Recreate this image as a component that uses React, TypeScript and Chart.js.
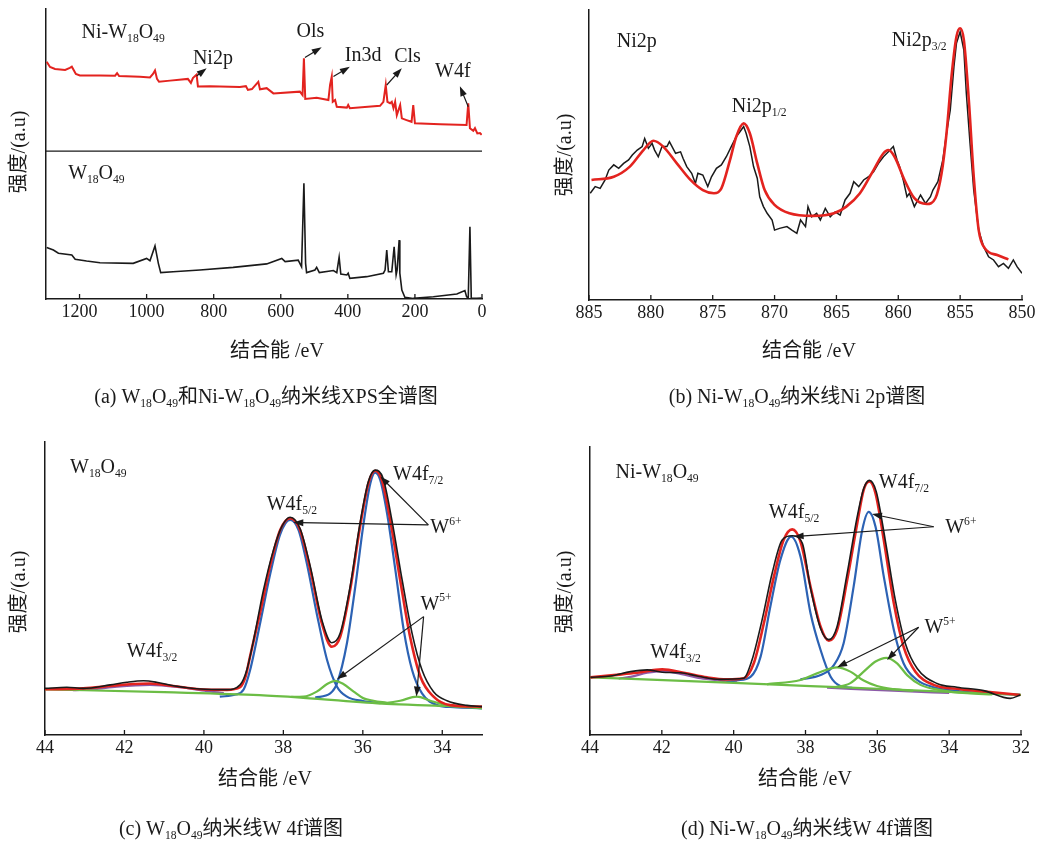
import React, { useEffect, useRef } from 'react';
import { Chart, registerables } from 'chart.js';

Chart.register(...registerables);

type Pt = [number, number];

const SERIF = '"Liberation Serif", "Noto Sans CJK SC", serif';
const INK = '#1a1a1a';
const RED = '#e3231f';
const BLUE = '#2c62b4';
const GREEN = '#6cbd45';
const PURPLE = '#8c5aa8';

const X_TITLE = '结合能 /eV';
const Y_TITLE = '强度/(a.u)';

// ---------- (a) survey spectra ----------
const surveyTicks = [1200, 1000, 800, 600, 400, 200, 0];
const niW18O49Survey: Pt[] = [
  [1298, 81.8], [1288, 80], [1273, 79.3], [1243, 79], [1229, 79.7], [1223, 80.1], [1211, 77.6], [1199, 77.1],
  [1139, 77.1], [1094, 77], [1088, 77.9], [1082, 76.9], [1020, 76.6], [990, 76.4], [981, 77.6], [975, 78.8],
  [969, 75.9], [963, 74.9], [930, 75.3], [877, 75.9], [868, 74.5], [862, 76.2], [851, 77.4], [847, 73.3],
  [811, 73.4], [722, 73.1], [704, 73.4], [698, 72.1], [686, 72.4], [667, 74.9], [662, 72.3], [642, 72.7],
  [622, 70.9], [543, 71.5], [535, 70.3], [531, 83], [527, 69], [493, 69.4], [458, 68.6], [453, 73.8],
  [448, 76.7], [445, 68], [438, 68.6], [433, 66.3], [403, 66], [399, 66.9], [394, 65.8], [304, 66.6],
  [294, 68], [287, 73.8], [282, 68], [274, 67.5], [269, 68], [264, 65.8], [259, 68], [254, 63.4],
  [244, 66.9], [239, 62.3], [225, 61.7], [210, 61.1], [205, 66.9], [200, 60.6], [125, 60.3], [46, 60],
  [41, 67.5], [36, 58.9], [26, 58], [21, 58.9], [14, 57.1], [6, 57.2], [1, 56.6],
];
const w18O49Survey: Pt[] = [
  [1298, 17.8], [1278, 16.9], [1263, 15.8], [1223, 15.2], [1213, 13.7], [1179, 13.1], [1139, 12.5], [1040, 12.3],
  [1000, 14.0], [990, 13.2], [975, 18.3], [965, 12.3], [958, 9.1], [921, 9.4], [841, 10], [742, 10.9],
  [642, 12.1], [597, 14], [587, 12.9], [548, 13.4], [538, 11.1], [531, 39.9], [526, 12.3], [523, 9.1],
  [498, 10], [493, 10.9], [485, 9.1], [443, 9.8], [433, 9.1], [426, 14.4], [421, 8.6], [403, 8.3],
  [399, 8.9], [394, 7.1], [344, 7.7], [294, 8.9], [289, 10], [284, 16.9], [279, 9.4], [269, 9.4],
  [262, 18], [256, 8.3], [253, 10], [247, 20.3], [245, 8.9], [239, 3.1], [230, 0.6], [205, 0.2],
  [145, 0.8], [75, 1.7], [51, 2.9], [46, 0.8], [41, 0.2], [36, 24.9], [32, 0.3], [16, 0.2], [1, 0.3],
];
const surveyDivider: Pt[] = [[1300, 51], [0, 51]];

// ---------- (b) Ni 2p ----------
const ni2pTicks = [885, 880, 875, 870, 865, 860, 855, 850];
const ni2pData: Pt[] = [
  [884.9, 36.8], [884.5, 39.1], [884.1, 38.5], [883.7, 41.4], [883.4, 44.8], [883.0, 46.6], [882.6, 45.4],
  [882.2, 47.1], [881.8, 48.3], [881.5, 50], [881.1, 51.7], [880.7, 52.9], [880.5, 55.7], [880.2, 52.3],
  [879.9, 54], [879.7, 51.7], [879.4, 49.4], [879.1, 52.9], [878.7, 52.9], [878.5, 54.6], [878.0, 50.6],
  [877.6, 51.1], [877.4, 48.9], [877.1, 46], [876.7, 43.7], [876.4, 40.2], [876.2, 43.7], [875.8, 43.1],
  [875.4, 39.1], [875.1, 42.5], [874.7, 45.4], [874.3, 46.6], [873.9, 49.4], [873.5, 52.9], [873.1, 56.3],
  [872.8, 58], [872.5, 59.8], [872.3, 57.5], [872.0, 52.9], [871.7, 46], [871.4, 42], [871.2, 35.6],
  [870.9, 32.2], [870.6, 29.9], [870.2, 27.6], [870.0, 24.1], [869.6, 24.7], [869.0, 25.3], [868.6, 24.1],
  [868.2, 23], [867.9, 27.6], [867.5, 25.3], [867.3, 32.2], [867.0, 28.7], [866.6, 29.9], [866.3, 27.6],
  [865.9, 31.6], [865.5, 28.7], [865.1, 30.4], [864.7, 29.3], [864.3, 34.5], [863.9, 36.8], [863.6, 40.8],
  [863.2, 39.1], [862.8, 41.4], [862.4, 42.5], [862.0, 44.2], [861.6, 47.1], [861.2, 49.4], [860.8, 51.1],
  [860.4, 52.9], [860.1, 48.3], [859.9, 46], [859.6, 41.4], [859.3, 35.6], [859.1, 36.8], [858.7, 32.2],
  [858.2, 36.2], [857.8, 33.3], [857.4, 35.6], [857.2, 37.9], [856.8, 40.8], [856.4, 48.3], [856.1, 57.5],
  [855.8, 65.5], [855.5, 80.5], [855.3, 88.5], [855.0, 92.5], [854.7, 86.2], [854.5, 71.3], [854.2, 54],
  [853.9, 37.9], [853.5, 24.1], [853.1, 18.4], [852.7, 14.9], [852.3, 13.8], [851.9, 11.5], [851.5, 12.6],
  [851.1, 10.9], [850.7, 13.8], [850.4, 11.5], [850.0, 9.2],
];
const ni2pFit: Pt[] = [
  [884.8, 41.4], [883.0, 42.5], [881.7, 46], [880.6, 51.7], [879.8, 54.9], [879.0, 52.9], [877.9, 47.1],
  [876.8, 41.4], [875.8, 37.9], [874.9, 36.8], [874.3, 38.5], [873.6, 48.3], [873.1, 56.3], [872.5, 60.9],
  [872.0, 57.5], [871.4, 47.1], [870.8, 37.9], [870.0, 32.8], [868.8, 29.9], [866.9, 29], [865.2, 29.9],
  [864.2, 32.2], [863.1, 36.8], [862.0, 44.8], [861.2, 50.6], [860.8, 51.7], [860.3, 49.4], [859.5, 41.4],
  [858.7, 35.1], [857.7, 33.1], [857.0, 35.1], [856.5, 43.7], [856.1, 57.5], [855.7, 77], [855.3, 90.8],
  [855.0, 93.7], [854.7, 89.7], [854.3, 69], [853.9, 42.5], [853.5, 24.1], [853.0, 17.8], [852.0, 15.5],
  [851.1, 14],
];

// ---------- (c) W18O49 W 4f ----------
const w4fTicksC = [44, 42, 40, 38, 36, 34];
const w4fDataC: Pt[] = [
  [44.0, 15.9], [43.45, 16.3], [43.04, 15.9], [42.36, 17.1], [41.94, 18], [41.52, 18.5], [41.19, 18],
  [40.77, 16.8], [40.10, 15.7], [39.42, 15.5], [39.09, 17.1], [38.92, 22.2], [38.75, 32.4], [38.50, 49.5],
  [38.25, 63.1], [38.04, 71.1], [37.83, 74.3], [37.58, 70.5], [37.32, 57.4], [37.03, 39.2], [36.78, 31.5],
  [36.57, 34.7], [36.32, 50.6], [36.07, 72.3], [35.86, 86.5], [35.69, 90.4], [35.49, 87.6], [35.27, 73.4],
  [35.01, 52.9], [34.76, 34.7], [34.51, 22.2], [34.22, 14.8], [33.88, 11.7], [33.38, 10.1], [33.0, 9.7],
];
const w4fEnvelopeC: Pt[] = [
  [44, 15.6], [43.04, 15.9], [42.36, 16.7], [41.78, 17.4], [41.36, 17.6], [40.77, 16.7], [40.10, 15.6],
  [39.42, 15.4], [39.09, 16.3], [38.95, 20], [38.84, 26.7], [38.58, 42.1], [38.33, 58], [38.08, 70],
  [37.83, 74], [37.58, 70], [37.32, 56.3], [37.03, 38.1], [36.78, 30.1], [36.57, 33.5], [36.32, 49.5],
  [36.07, 71.1], [35.86, 85.9], [35.69, 90.2], [35.52, 87], [35.31, 73.4], [35.06, 52.9], [34.81, 33.5],
  [34.55, 19.9], [34.22, 13.1], [33.80, 10.2], [33.0, 9.7],
];
const w6Peak1C: Pt[] = [
  [39.6, 13.1], [39.2, 13.8], [39.0, 15.5], [38.84, 22], [38.58, 38.5], [38.33, 55], [38.08, 68.5],
  [37.83, 73.4], [37.62, 70], [37.41, 58.6], [37.16, 41.5], [36.9, 25.6], [36.65, 16.5], [36.4, 13.1],
  [36.0, 11.6], [35.6, 11.0],
];
const w6Peak2C: Pt[] = [
  [37.2, 12.8], [36.82, 14.2], [36.65, 17.6], [36.4, 31.3], [36.19, 50.6], [35.98, 72.3], [35.81, 85.9],
  [35.69, 89.5], [35.56, 87], [35.39, 75.7], [35.18, 56.3], [34.97, 35.8], [34.76, 22.2], [34.51, 14.2],
  [34.13, 10.2], [33.71, 9.5], [33.0, 9.1],
];
const w5Peak1C: Pt[] = [
  [37.8, 13.0], [37.49, 13.1], [37.16, 14.8], [36.9, 17.4], [36.69, 18.5], [36.49, 17.4], [36.23, 14.8],
  [35.98, 12.5], [35.73, 11.7], [35.4, 11.0],
];
const w5Peak2C: Pt[] = [
  [35.6, 10.9], [35.39, 11.0], [35.06, 11.7], [34.64, 13.1], [34.30, 11.7], [33.88, 10.2], [33.5, 9.6],
];
const backgroundC: Pt[] = [
  [44, 15.6], [41, 14.6], [38.6, 13.6], [37.5, 12.7], [35.4, 10.6], [33.9, 9.9], [33, 9.1],
];
const w4f32C: Pt[] = [
  [43.3, 15.3], [42.78, 15.6], [42.19, 16.5], [41.36, 17.1], [40.60, 16.3], [39.93, 15.0], [39.5, 14.3],
];

// ---------- (d) Ni-W18O49 W 4f ----------
const w4fTicksD = [44, 42, 40, 38, 36, 34, 32];
const w4fDataD: Pt[] = [
  [43.99, 20], [43.43, 20.5], [42.87, 22], [42.41, 22.6], [41.99, 21.8], [41.48, 21.6], [41.02, 20.5],
  [40.37, 19.3], [39.72, 19.7], [39.49, 26], [39.21, 39.9], [38.93, 56.1], [38.65, 67.7], [38.37, 69.2],
  [38.09, 66.6], [37.86, 50.9], [37.58, 37], [37.35, 33.1], [37.12, 37.7], [36.84, 56.1], [36.56, 75.8],
  [36.38, 85.6], [36.22, 88.4], [36.03, 84.5], [35.78, 67.7], [35.50, 46.9], [35.22, 31.8], [34.89, 23.1],
  [34.34, 17.9], [33.78, 16.6], [33.04, 15.4], [32.30, 12.7], [32.02, 13.9],
];
const w4fEnvelopeD: Pt[] = [
  [43.99, 20], [43.34, 20.8], [42.69, 21.6], [41.99, 22.8], [41.39, 21.6], [40.74, 20], [40.18, 19.3],
  [39.72, 19.7], [39.44, 24.9], [39.16, 38.8], [38.88, 55], [38.61, 67.7], [38.37, 71.4], [38.14, 67.2],
  [37.86, 51.5], [37.58, 37.6], [37.35, 32.7], [37.12, 36.5], [36.84, 53.8], [36.56, 73.5], [36.38, 85.1],
  [36.22, 88], [36.05, 83.9], [35.82, 67.7], [35.54, 45.7], [35.27, 30.7], [34.94, 22], [34.43, 17.4],
  [33.69, 15.9], [32.94, 15], [32.02, 13.9],
];
const w6Peak1D: Pt[] = [
  [40.2, 18.4], [39.90, 19.0], [39.53, 20.2], [39.25, 27.2], [38.98, 44.5], [38.70, 60.8], [38.40, 68.9],
  [38.14, 62], [37.86, 42.3], [37.58, 29.5], [37.30, 20.2], [37.03, 17], [36.7, 16.4],
];
const w6Peak2D: Pt[] = [
  [38.14, 19.3], [37.58, 20.8], [37.21, 24.3], [36.94, 31.8], [36.66, 51.5], [36.42, 71.2], [36.24, 77.5],
  [36.05, 72.3], [35.82, 55], [35.54, 36.5], [35.27, 24.9], [34.89, 19.1], [34.43, 16.6], [33.69, 15.2],
  [32.02, 13.9],
];
const w5Peak1D: Pt[] = [
  [39.07, 17.6], [38.14, 19.1], [37.68, 21.4], [37.12, 23.5], [36.75, 22], [36.38, 18.9], [36.01, 17],
  [35.54, 15.9], [35.0, 15.3],
];
const w5Peak2D: Pt[] = [
  [37.2, 16.5], [36.75, 18], [36.38, 22], [36.05, 25.5], [35.75, 26.8], [35.45, 24.9], [35.17, 20.8],
  [34.80, 17.4], [34.25, 15.6], [33.50, 14.5], [32.8, 14.1],
];
const backgroundD: Pt[] = [
  [44, 20], [40, 18.1], [37.86, 17], [35.5, 15.8], [34, 15], [32, 13.9],
];
const w4f32D: Pt[] = [
  [43.2, 19.6], [42.87, 20.2], [42.41, 21.6], [41.99, 22.2], [41.48, 21.2], [40.92, 19.7], [40.37, 18.9],
  [39.9, 18.3],
];
const backgroundD2: Pt[] = [[37.4, 16.4], [35.4, 15.3], [34.0, 14.6]];

// ---------- panel definitions ----------
type Series = { data: Pt[]; color: string; width: number; smooth: boolean };
type Label = { text: string; at: Pt };
type Arrow = { from: Pt; to: Pt };
type PanelSpec = {
  box: { left: number; top: number; width: number; height: number };
  pad: { left: number; top: number; right: number; bottom: number };
  xMin: number;
  xMax: number;
  ticks: number[];
  series: Series[];
  labels: Label[];
  arrows: Arrow[];
  xTitle: Pt;
  yTitle: Pt;
  caption: string;
  captionAt: Pt;
};

const panels: PanelSpec[] = [
  {
    box: { left: 0, top: 0, width: 520, height: 420 },
    pad: { left: 46, top: 9, right: 38, bottom: 121 },
    xMin: 0, xMax: 1300, ticks: surveyTicks,
    series: [
      { data: surveyDivider, color: INK, width: 1.2, smooth: false },
      { data: niW18O49Survey, color: RED, width: 2, smooth: false },
      { data: w18O49Survey, color: INK, width: 1.6, smooth: false },
    ],
    labels: [
      { text: 'Ni-W_{18}O_{49}', at: [1194, 90] },
      { text: 'Ni2p', at: [862, 81] },
      { text: 'Ols', at: [553, 90.2] },
      { text: 'In3d', at: [409, 82.2] },
      { text: 'Cls', at: [262, 81.6] },
      { text: 'W4f', at: [140, 76.7] },
      { text: 'W_{18}O_{49}', at: [1234, 41.3] },
    ],
    arrows: [
      { from: [851, 76.9], to: [821, 79.6] },
      { from: [528, 83.3], to: [478, 86.8] },
      { from: [443, 76.7], to: [394, 80.1] },
      { from: [284, 73.8], to: [239, 79.6] },
      { from: [41, 66.3], to: [66, 73.4] },
    ],
    xTitle: [277, 352], yTitle: [20, 152],
    caption: '(a) W_{18}O_{49}和Ni-W_{18}O_{49}纳米线XPS全谱图', captionAt: [266, 403],
  },
  {
    box: { left: 520, top: 0, width: 521, height: 420 },
    pad: { left: 69, top: 10, right: 19, bottom: 120 },
    xMin: 850, xMax: 885, ticks: ni2pTicks,
    series: [
      { data: ni2pFit, color: RED, width: 2.6, smooth: true },
      { data: ni2pData, color: INK, width: 1.5, smooth: false },
    ],
    labels: [
      { text: 'Ni2p', at: [882.76, 87.3] },
      { text: 'Ni2p_{1/2}', at: [873.46, 64.9] },
      { text: 'Ni2p_{3/2}', at: [860.53, 87.6] },
    ],
    arrows: [],
    xTitle: [289, 352], yTitle: [46, 155],
    caption: '(b) Ni-W_{18}O_{49}纳米线Ni 2p谱图', captionAt: [277, 403],
  },
  {
    box: { left: 0, top: 420, width: 520, height: 426 },
    pad: { left: 45, top: 22, right: 38, bottom: 111 },
    xMin: 33, xMax: 44, ticks: w4fTicksC,
    series: [
      { data: w4fDataC, color: INK, width: 1.6, smooth: true },
      { data: w4fEnvelopeC, color: RED, width: 2.6, smooth: true },
      { data: w5Peak1C, color: GREEN, width: 2.2, smooth: true },
      { data: w5Peak2C, color: GREEN, width: 2.2, smooth: true },
      { data: backgroundC, color: GREEN, width: 2.2, smooth: true },
      { data: w6Peak1C, color: BLUE, width: 2.2, smooth: true },
      { data: w6Peak2C, color: BLUE, width: 2.2, smooth: true },
      { data: w4f32C, color: PURPLE, width: 2.2, smooth: true },
    ],
    labels: [
      { text: 'W_{18}O_{49}', at: [43.37, 89.5] },
      { text: 'W4f_{3/2}', at: [41.94, 26.7] },
      { text: 'W4f_{5/2}', at: [38.42, 76.8] },
      { text: 'W4f_{7/2}', at: [35.24, 87] },
      { text: 'W^{6+}', at: [34.3, 68.8] },
      { text: 'W^{5+}', at: [34.55, 42.7] },
    ],
    arrows: [
      { from: [34.35, 71.7], to: [37.75, 72.5] },
      { from: [34.35, 71.7], to: [35.56, 88.2] },
      { from: [34.47, 40.4], to: [36.65, 19] },
      { from: [34.47, 40.4], to: [34.65, 13.1] },
    ],
    xTitle: [265, 360], yTitle: [20, 172],
    caption: '(c) W_{18}O_{49}纳米线W 4f谱图', captionAt: [231, 415],
  },
  {
    box: { left: 520, top: 420, width: 521, height: 426 },
    pad: { left: 70, top: 27, right: 20, bottom: 111 },
    xMin: 32, xMax: 44, ticks: w4fTicksD,
    series: [
      { data: w4fDataD, color: INK, width: 1.6, smooth: true },
      { data: w4fEnvelopeD, color: RED, width: 2.6, smooth: true },
      { data: w5Peak1D, color: GREEN, width: 2.2, smooth: true },
      { data: w5Peak2D, color: GREEN, width: 2.2, smooth: true },
      { data: backgroundD, color: GREEN, width: 2.2, smooth: true },
      { data: w6Peak1D, color: BLUE, width: 2.2, smooth: true },
      { data: w6Peak2D, color: BLUE, width: 2.2, smooth: true },
      { data: w4f32D, color: PURPLE, width: 2.2, smooth: true },
      { data: backgroundD2, color: PURPLE, width: 2.2, smooth: true },
    ],
    labels: [
      { text: 'Ni-W_{18}O_{49}', at: [43.29, 89.1] },
      { text: 'W4f_{3/2}', at: [42.32, 26.6] },
      { text: 'W4f_{5/2}', at: [39.02, 75.2] },
      { text: 'W4f_{7/2}', at: [35.96, 85.7] },
      { text: 'W^{6+}', at: [34.11, 70] },
      { text: 'W^{5+}', at: [34.69, 35.3] },
    ],
    arrows: [
      { from: [34.43, 72.3], to: [36.15, 76.7] },
      { from: [34.43, 72.3], to: [38.33, 68.9] },
      { from: [34.85, 37.4], to: [37.12, 23.5] },
      { from: [34.85, 37.4], to: [35.73, 26] },
    ],
    xTitle: [285, 360], yTitle: [46, 172],
    caption: '(d) Ni-W_{18}O_{49}纳米线W 4f谱图', captionAt: [287, 415],
  },
];

// ---------- drawing helpers ----------
type Part = { t: string; k: 'n' | 'sub' | 'sup' };
function parseRich(s: string): Part[] {
  const out: Part[] = [];
  const re = /([_^])\{([^}]*)\}/g;
  let last = 0;
  let m: RegExpExecArray | null;
  while ((m = re.exec(s))) {
    if (m.index > last) out.push({ t: s.slice(last, m.index), k: 'n' });
    out.push({ t: m[2], k: m[1] === '_' ? 'sub' : 'sup' });
    last = re.lastIndex;
  }
  if (last < s.length) out.push({ t: s.slice(last), k: 'n' });
  return out;
}

function drawRich(ctx: CanvasRenderingContext2D, s: string, x: number, y: number, size: number, align: 'left' | 'center') {
  const parts = parseRich(s).map((p) => {
    const fs = p.k === 'n' ? size : size * 0.58;
    ctx.font = `${fs}px ${SERIF}`;
    return { ...p, fs, w: ctx.measureText(p.t).width };
  });
  const total = parts.reduce((a, p) => a + p.w, 0);
  let cx = align === 'center' ? x - total / 2 : x;
  ctx.textAlign = 'left';
  ctx.textBaseline = 'alphabetic';
  for (const p of parts) {
    ctx.font = `${p.fs}px ${SERIF}`;
    const dy = p.k === 'sub' ? size * 0.2 : p.k === 'sup' ? -size * 0.42 : 0;
    ctx.fillText(p.t, cx, y + dy);
    cx += p.w;
  }
}

function drawArrow(ctx: CanvasRenderingContext2D, x1: number, y1: number, x2: number, y2: number) {
  const ang = Math.atan2(y2 - y1, x2 - x1);
  const L = 10;
  const W = 3.4;
  const c = Math.cos(ang);
  const s = Math.sin(ang);
  ctx.beginPath();
  ctx.moveTo(x1, y1);
  ctx.lineTo(x2 - L * 0.7 * c, y2 - L * 0.7 * s);
  ctx.stroke();
  ctx.beginPath();
  ctx.moveTo(x2, y2);
  ctx.lineTo(x2 - L * c + W * s, y2 - L * s - W * c);
  ctx.lineTo(x2 - L * c - W * s, y2 - L * s + W * c);
  ctx.closePath();
  ctx.fill();
}

function makeDecor(spec: PanelSpec) {
  return {
    id: 'decor',
    afterDraw(chart: any) {
      const ctx: CanvasRenderingContext2D = chart.ctx;
      const a = chart.chartArea;
      const xs = chart.scales.x;
      const ys = chart.scales.y;
      const P = (p: Pt): Pt => [xs.getPixelForValue(p[0]), ys.getPixelForValue(p[1])];
      ctx.save();
      ctx.fillStyle = INK;
      ctx.strokeStyle = INK;
      ctx.lineWidth = 1.3;
      ctx.font = `18px ${SERIF}`;
      ctx.textAlign = 'center';
      ctx.textBaseline = 'middle';
      for (const t of xs.ticks) {
        const px = xs.getPixelForValue(t.value);
        ctx.beginPath();
        ctx.moveTo(px, a.bottom);
        ctx.lineTo(px, a.bottom - 5);
        ctx.stroke();
        ctx.fillText(String(t.value), px, a.bottom + 13);
      }
      ctx.font = `20px ${SERIF}`;
      ctx.fillText(X_TITLE, spec.xTitle[0], spec.xTitle[1]);
      ctx.save();
      ctx.translate(spec.yTitle[0], spec.yTitle[1]);
      ctx.rotate(-Math.PI / 2);
      ctx.fillText(Y_TITLE, 0, 0);
      ctx.restore();
      drawRich(ctx, spec.caption, spec.captionAt[0], spec.captionAt[1], 20, 'center');
      for (const l of spec.labels) {
        const [px, py] = P(l.at);
        drawRich(ctx, l.text, px, py, 20, 'left');
      }
      ctx.lineWidth = 1.2;
      for (const ar of spec.arrows) {
        const [x1, y1] = P(ar.from);
        const [x2, y2] = P(ar.to);
        drawArrow(ctx, x1, y1, x2, y2);
      }
      ctx.restore();
    },
  };
}

function Panel({ spec }: { spec: PanelSpec }) {
  const ref = useRef<HTMLCanvasElement | null>(null);
  useEffect(() => {
    if (!ref.current) return;
    const chart = new Chart(ref.current, {
      type: 'line',
      data: {
        datasets: spec.series.map((s) => ({
          data: s.data.map(([x, y]) => ({ x, y })),
          borderColor: s.color,
          borderWidth: s.width,
          pointRadius: 0,
          fill: false,
          tension: 0,
          cubicInterpolationMode: s.smooth ? 'monotone' : 'default',
        })),
      },
      options: {
        animation: false,
        responsive: false,
        events: [],
        devicePixelRatio: 1,
        layout: { padding: spec.pad },
        plugins: { legend: { display: false }, tooltip: { enabled: false } },
        scales: {
          x: {
            type: 'linear',
            reverse: true,
            min: spec.xMin,
            max: spec.xMax,
            ticks: { display: false },
            grid: { display: false, drawTicks: false },
            border: { display: true, color: INK, width: 1.5 },
            afterBuildTicks: (s: any) => {
              s.ticks = spec.ticks.map((v) => ({ value: v }));
            },
            afterFit: (s: any) => {
              s.height = 0;
            },
          },
          y: {
            type: 'linear',
            min: 0,
            max: 100,
            ticks: { display: false },
            grid: { display: false, drawTicks: false },
            border: { display: true, color: INK, width: 1.5 },
            afterFit: (s: any) => {
              s.width = 0;
            },
          },
        },
      } as any,
      plugins: [makeDecor(spec)],
    } as any);
    return () => chart.destroy();
  }, [spec]);
  const b = spec.box;
  return (
    <canvas
      ref={ref}
      width={b.width}
      height={b.height}
      style={{ position: 'absolute', left: b.left, top: b.top, width: b.width, height: b.height }}
    />
  );
}

export default function App() {
  return (
    <div style={{ position: 'absolute', left: 0, top: 0, width: 1041, height: 846, background: '#ffffff' }}>
      {panels.map((p, i) => (
        <Panel key={i} spec={p} />
      ))}
    </div>
  );
}
